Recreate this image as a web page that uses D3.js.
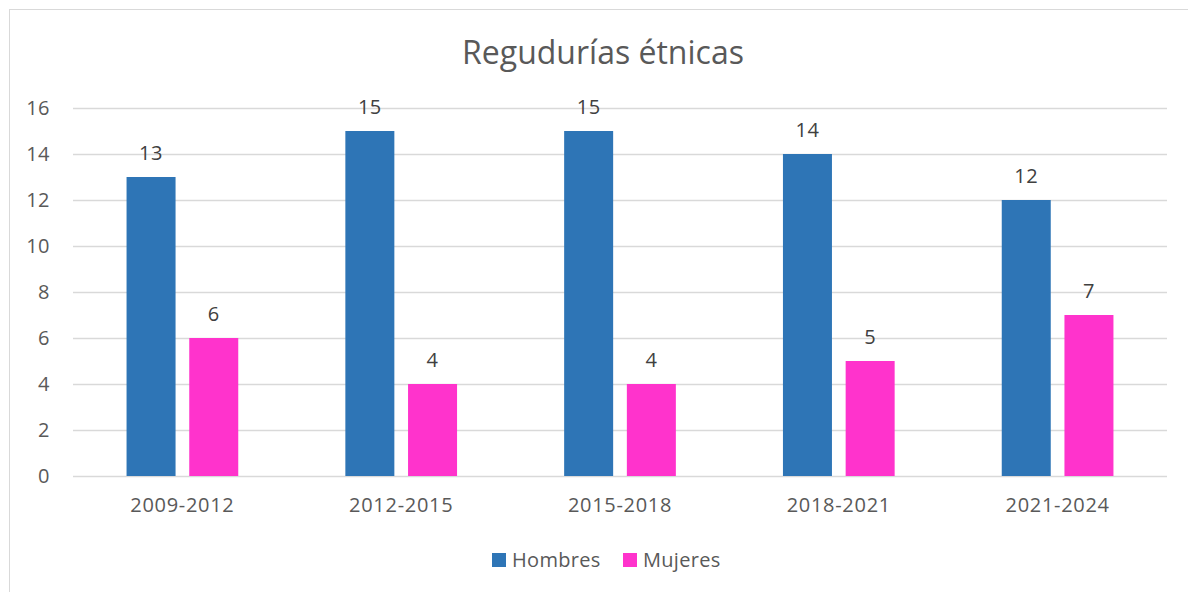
<!DOCTYPE html>
<html>
<head>
<meta charset="utf-8">
<script src="https://cdn.jsdelivr.net/npm/d3@7"></script>
<style>
  body { margin: 0; background: #fff; }
  text { font-family: "Open Sans", sans-serif; }
</style>
</head>
<body>
<script>
// Chart data
const periods = ["2009-2012", "2012-2015", "2015-2018", "2018-2021", "2021-2024"];
const hombres = [13, 15, 15, 14, 12];
const mujeres = [6, 4, 4, 5, 7];
const seriesNames = ["Hombres", "Mujeres"];
const seriesColors = ["#2E75B6", "#FF33CC"];
const yTicks = [0, 2, 4, 6, 8, 10, 12, 14, 16];

function drawChart() {
  const W = 1188, H = 592;
  const plot = { left: 73, right: 1167, top: 108, bottom: 476 };

  const svg = d3.select("body").append("svg")
    .attr("width", W)
    .attr("height", H);

  // Chart area border (runs past the right/bottom of the picture)
  svg.append("rect")
    .attr("x", 9.5).attr("y", 9.5)
    .attr("width", 1188).attr("height", 600)
    .attr("fill", "#fff")
    .attr("stroke", "#D9D9D9")
    .attr("stroke-width", 1);

  const x = d3.scaleBand()
    .domain(periods)
    .range([plot.left, plot.right])
    .padding(0);

  const groupWidth = 111.7;
  const xInner = d3.scaleBand()
    .domain(seriesNames)
    .range([0, groupWidth])
    .paddingInner(0.2185)
    .paddingOuter(0);

  const y = d3.scaleLinear()
    .domain([0, 16])
    .range([plot.bottom, plot.top]);

  // Gridlines
  svg.append("g")
    .selectAll("line")
    .data(yTicks)
    .join("line")
    .attr("x1", plot.left)
    .attr("x2", plot.right)
    .attr("y1", d => Math.round(y(d)) + 0.5)
    .attr("y2", d => Math.round(y(d)) + 0.5)
    .attr("stroke", "#D9D9D9")
    .attr("stroke-width", 1.5);

  // Y axis labels
  const yAxis = d3.axisLeft(y)
    .tickValues(yTicks)
    .tickSize(0)
    .tickPadding(0);
  const yg = svg.append("g")
    .attr("transform", `translate(50, 0)`)
    .call(yAxis);
  yg.select(".domain").remove();
  yg.selectAll("text")
    .style("font-family", "'Open Sans', sans-serif")
    .style("font-size", "20px")
    .style("letter-spacing", "0.5px")
    .attr("fill", "#595959");

  // X axis labels
  const xAxis = d3.axisBottom(x).tickSize(0).tickPadding(0);
  const xg = svg.append("g")
    .attr("transform", `translate(0, ${plot.bottom})`)
    .call(xAxis);
  xg.select(".domain").remove();
  xg.selectAll("text")
    .attr("dy", null)
    .attr("y", 36)
    .style("font-family", "'Open Sans', sans-serif")
    .style("font-size", "20px")
    .style("letter-spacing", "0.7px")
    .attr("fill", "#595959");

  // Bars
  const seriesData = [hombres, mujeres];
  seriesNames.forEach((name, si) => {
    const vals = seriesData[si];
    const g = svg.append("g");
    const bx = (d, i) => x(periods[i]) + x.bandwidth() / 2 - groupWidth / 2 + xInner(name);

    g.selectAll("rect")
      .data(vals)
      .join("rect")
      .attr("x", bx)
      .attr("y", d => y(d))
      .attr("width", xInner.bandwidth())
      .attr("height", d => y(0) - y(d))
      .attr("fill", seriesColors[si]);

    // Value labels
    g.selectAll("text")
      .data(vals)
      .join("text")
      .attr("x", (d, i) => bx(d, i) + xInner.bandwidth() / 2)
      .attr("y", d => y(d) - 17)
      .attr("text-anchor", "middle")
      .style("font-size", "20px")
      .style("letter-spacing", "0.5px")
      .attr("fill", "#404040")
      .text(d => d);
  });

  // Title
  svg.append("text")
    .attr("x", 603)
    .attr("y", 64)
    .attr("text-anchor", "middle")
    .style("font-size", "32px")
    .attr("fill", "#595959")
    .text("Regudurías étnicas");

  // Legend
  const legendItems = [
    { name: seriesNames[0], color: seriesColors[0], sx: 492 },
    { name: seriesNames[1], color: seriesColors[1], sx: 623 }
  ];
  const lg = svg.append("g");
  legendItems.forEach(item => {
    lg.append("rect")
      .attr("x", item.sx)
      .attr("y", 553)
      .attr("width", 14)
      .attr("height", 14)
      .attr("fill", item.color);
    lg.append("text")
      .attr("x", item.sx + 20)
      .attr("y", 567)
      .style("font-size", "20px")
      .style("letter-spacing", "0.3px")
      .attr("fill", "#595959")
      .text(item.name);
  });
}

drawChart();
</script>
</body>
</html>
